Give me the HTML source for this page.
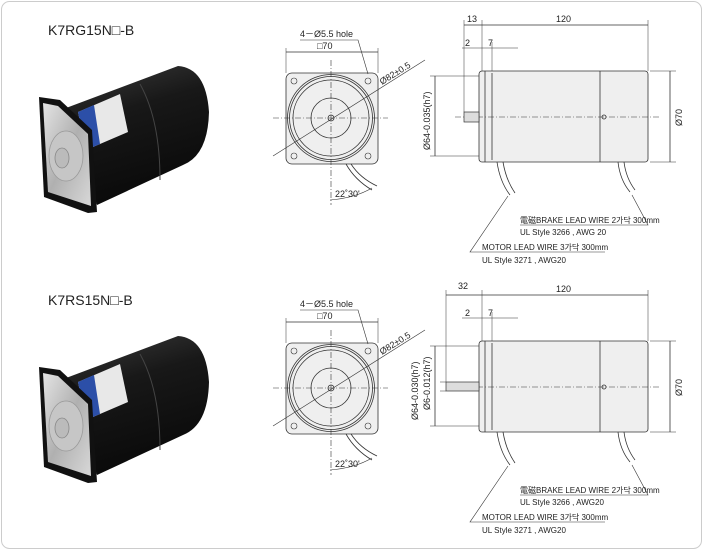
<!DOCTYPE html>
<html><head><meta charset="utf-8"><style>
html,body{margin:0;padding:0;background:#fff;width:703px;height:550px;overflow:hidden}
svg{display:block}
text{font-family:"Liberation Sans","Noto Sans CJK KR",sans-serif;fill:#222}
</style></head><body>
<svg width="703" height="550" viewBox="0 0 703 550" xmlns="http://www.w3.org/2000/svg">
<defs>
<linearGradient id="fl" x1="0" y1="0" x2="1" y2="1"><stop offset="0" stop-color="#e4e4e4"/><stop offset="0.5" stop-color="#b0b0b0"/><stop offset="1" stop-color="#d8d8d8"/></linearGradient>
<linearGradient id="bd" x1="0" y1="0" x2="0.3" y2="1"><stop offset="0" stop-color="#3a3a3a"/><stop offset="0.4" stop-color="#181818"/><stop offset="1" stop-color="#0a0a0a"/></linearGradient>
<g id="photo">
<path d="M66,108 L178,66 Q206,68 209,112 Q208,155 183,165 L97,205 Z" fill="url(#bd)"/>
<path d="M140,84 Q160,120 160,180" stroke="#444" stroke-width="1" fill="none"/>
<polygon points="78,112 120,94 128,132 86,150" fill="#e8e8e8"/>
<polygon points="78,112 94,105 100,144 86,150" fill="#2c4fa8"/>
<polygon points="39,97 60,100 92,130 97,212 88,213 44,197" fill="#111"/>
<polygon points="43,103 58,106 88,134 91,206 48,192" fill="url(#fl)"/>
<ellipse cx="66" cy="156" rx="17" ry="25" fill="#c6c6c6" stroke="#999" stroke-width="0.8"/>
<ellipse cx="62" cy="158" rx="7" ry="10" fill="#bbb" stroke="#888" stroke-width="0.8"/>
</g>
<g id="draw" stroke="#333" fill="none" stroke-width="0.8">
<rect x="286" y="73" width="92" height="91" rx="6" fill="#efefef"/>
<circle cx="331" cy="118" r="43.5"/><circle cx="331" cy="118" r="41.5"/><circle cx="331" cy="118" r="38"/>
<circle cx="331" cy="118" r="20"/><circle cx="331" cy="118" r="3"/>
<g stroke-width="0.6"><circle cx="294" cy="81" r="3"/><circle cx="368" cy="81" r="3"/><circle cx="294" cy="156" r="3"/><circle cx="368" cy="156" r="3"/></g>
<line x1="331" y1="60" x2="331" y2="205" stroke-dasharray="6,2,1,2" stroke-width="0.6"/>
<line x1="273" y1="118" x2="388" y2="118" stroke-dasharray="6,2,1,2" stroke-width="0.6"/>
<line x1="273" y1="156" x2="425" y2="60" stroke-width="0.6"/>
<line x1="286" y1="52" x2="378" y2="52"/><line x1="286" y1="48" x2="286" y2="73" stroke-width="0.5"/><line x1="378" y1="48" x2="378" y2="73" stroke-width="0.5"/>
<polyline points="300,40 358,40 368,74" stroke-width="0.6"/>
<path d="M346,164 Q355,180 372,190 M351,164 Q360,178 377,186" />
<path d="M330,200 Q355,198 372,188" stroke-width="0.6"/>
<rect x="479" y="71" width="169" height="91" rx="3" fill="#efefef"/>
<line x1="485" y1="71" x2="485" y2="162"/><line x1="492" y1="73" x2="492" y2="160"/>
<line x1="600" y1="71" x2="600" y2="162"/>
<circle cx="604" cy="117" r="2"/>
<line x1="455" y1="117" x2="660" y2="117" stroke-dasharray="6,2,1,2" stroke-width="0.6"/>
<line x1="482" y1="20" x2="482" y2="71" stroke-width="0.5"/><line x1="648" y1="20" x2="648" y2="71" stroke-width="0.5"/>
<line x1="482" y1="25" x2="648" y2="25"/>
<line x1="462" y1="48" x2="518" y2="48" stroke-width="0.5"/><line x1="492" y1="42" x2="492" y2="71" stroke-width="0.5"/>
<line x1="650" y1="71" x2="676" y2="71" stroke-width="0.5"/><line x1="650" y1="162" x2="676" y2="162" stroke-width="0.5"/><line x1="670" y1="71" x2="670" y2="162"/>
<line x1="430" y1="76" x2="479" y2="76" stroke-width="0.5"/><line x1="430" y1="156" x2="479" y2="156" stroke-width="0.5"/><line x1="435" y1="76" x2="435" y2="156"/>
<path d="M497,162 Q500,182 510,195 M503,162 Q506,180 515,193 M618,162 Q620,180 630,192 M624,162 Q626,178 635,190"/>
<polyline points="632,195 648,225 520,225" stroke-width="0.6"/>
<polyline points="508,196 470,252 605,252" stroke-width="0.6"/>
</g>
</defs>
<rect x="1.5" y="1.5" width="700" height="547" rx="8" fill="#fff" stroke="#ccc"/>
<use href="#photo"/>
<g transform="translate(0,270)"><use href="#photo"/><polygon points="30,436 62,423 64,429 32,441" fill="#bbb" stroke="#777" stroke-width="0.5"/></g>
<text x="48" y="35" font-size="14">K7RG15N□-B</text>
<text x="48" y="305" font-size="14">K7RS15N□-B</text>
<use href="#draw"/>
<use href="#draw" transform="translate(0,270)"/>
<g stroke="#333" stroke-width="0.7" fill="#ddd">
<rect x="464" y="112" width="15" height="10"/>
<rect x="446" y="382" width="33" height="9"/>
</g>
<g stroke="#333" fill="none">
<line x1="464" y1="20" x2="464" y2="112" stroke-width="0.5"/><line x1="464" y1="25" x2="482" y2="25" stroke-width="0.8"/>
<line x1="446" y1="290" x2="446" y2="382" stroke-width="0.5"/><line x1="446" y1="295" x2="482" y2="295" stroke-width="0.8"/>
<line x1="440" y1="382" x2="446" y2="382" stroke-width="0.5"/><line x1="440" y1="391" x2="446" y2="391" stroke-width="0.5"/>
</g>
<g font-size="9">
<text x="300" y="37">4－Ø5.5 hole</text><text x="317" y="49">□70</text>
<text x="382" y="85" transform="rotate(-32 382 85)">Ø82±0.5</text>
<text x="335" y="197">22˚30'</text>
<text x="467" y="22">13</text><text x="556" y="22">120</text>
<text x="465" y="46">2</text><text x="488" y="46">7</text>
<text x="682" y="126" transform="rotate(-90 682 126)">Ø70</text>
<text x="430" y="150" transform="rotate(-90 430 150)">Ø64-0.035(h7)</text>
<text x="520" y="223" font-size="8">電磁BRAKE LEAD WIRE 2가닥 300mm</text>
<text x="520" y="235" font-size="8">UL Style  3266 , AWG 20</text>
<text x="482" y="250" font-size="8">MOTOR LEAD  WIRE 3가닥 300mm</text>
<text x="482" y="263" font-size="8">UL Style  3271 , AWG20</text>
<g transform="translate(0,270)">
<text x="300" y="37">4－Ø5.5 hole</text><text x="317" y="49">□70</text>
<text x="382" y="85" transform="rotate(-32 382 85)">Ø82±0.5</text>
<text x="335" y="197">22˚30'</text>
<text x="556" y="22">120</text>
<text x="465" y="46">2</text><text x="488" y="46">7</text>
<text x="682" y="126" transform="rotate(-90 682 126)">Ø70</text>
<text x="520" y="223" font-size="8">電磁BRAKE LEAD WIRE 2가닥 300mm</text>
<text x="520" y="235" font-size="8">UL Style  3266 , AWG20</text>
<text x="482" y="250" font-size="8">MOTOR LEAD  WIRE 3가닥 300mm</text>
<text x="482" y="263" font-size="8">UL Style  3271 , AWG20</text>
</g>
<text x="458" y="289" font-size="9">32</text>
<text x="418" y="420" font-size="9" transform="rotate(-90 418 420)">Ø64-0.030(h7)</text>
<text x="430" y="410" font-size="9" transform="rotate(-90 430 410)">Ø6-0.012(h7)</text>
</g>
</svg>
</body></html>
